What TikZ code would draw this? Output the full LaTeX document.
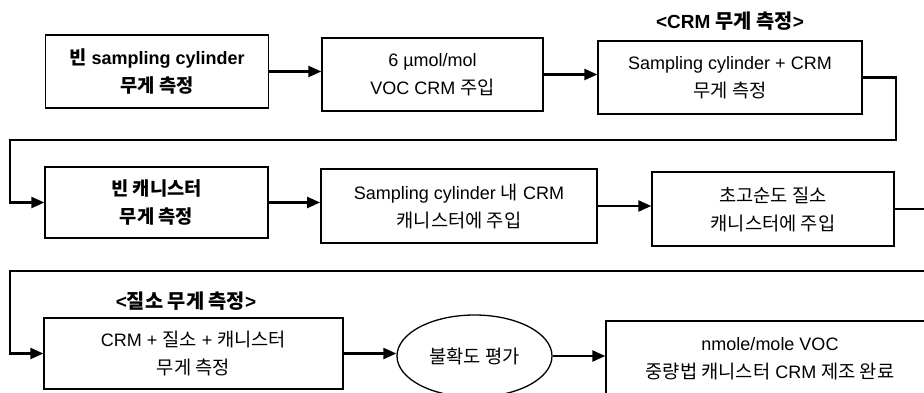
\documentclass[tikz,border=0pt]{standalone}
\usepackage{fontspec}
\setmainfont{Liberation Sans}
\newfontfamily\kr[Scale=1.04]{Noto Sans CJK KR}
\usetikzlibrary{arrows.meta,shapes.geometric}
\tikzset{
  box/.style={draw, line width=1.3pt, align=center, inner sep=0pt, font=\fontsize{18}{28}\selectfont},
  boldbox/.style={box, font=\fontsize{18}{28}\selectfont\bfseries},
  conn/.style={line width=2.3pt},
  arr/.style={conn, -{Triangle[length=13pt,width=11pt]}},
  lbl/.style={font=\fontsize{19}{22}\selectfont\bfseries, inner sep=0pt},
}
\begin{document}
\begin{tikzpicture}[x=1pt,y=-1pt]
\useasboundingbox (0,0) rectangle (924,393);
% row 1
\node[boldbox, minimum width=223pt, minimum height=73pt] (b1) at (157,71.5) {{\kr 빈} sampling cylinder\\{\kr 무게 측정}};
\node[box, minimum width=221pt, minimum height=73pt] (b2) at (432.5,74.5) {6 µmol/mol\\VOC CRM {\kr 주입}};
\node[box, minimum width=264pt, minimum height=73pt] (b3) at (730,77.5) {Sampling cylinder + CRM\\{\kr 무게 측정}};
\node[lbl] (l1) at (730,21) {<CRM {\kr 무게 측정}>};
% row 2
\node[boldbox, minimum width=223pt, minimum height=71pt] (b4) at (156.5,202.5) {{\kr 빈 캐니스터}\\{\kr 무게 측정}};
\node[box, line width=1.8pt, minimum width=276pt, minimum height=74pt] (b5) at (459,206) {Sampling cylinder {\kr 내} CRM\\{\kr 캐니스터에 주입}};
\node[box, minimum width=242pt, minimum height=74pt] (b6) at (773,209) {{\kr 초고순도 질소}\\{\kr 캐니스터에 주입}};
% row 3
\node[lbl] (l2) at (186,301) {<{\kr 질소 무게 측정}>};
\node[box, minimum width=299pt, minimum height=71pt] (b7) at (193.5,353.5) {CRM + {\kr 질소} + {\kr 캐니스터}\\{\kr 무게 측정}};
\node[box, ellipse, minimum width=155pt, minimum height=82pt] (e1) at (474.5,356) {\kr 불확도 평가};
\node[box, minimum width=328pt, minimum height=75pt] (b9) at (770,358.5) {nmole/mole VOC\\{\kr 중량법 캐니스터} CRM {\kr 제조 완료}};
% turn points
\coordinate (t1) at (896,140);
\coordinate (t2) at (10,140);
\coordinate (t3) at (940,271);
\coordinate (t4) at (10,271);
% connectors
\draw[arr] (b1.east) -- (b1.east -| b2.west);
\draw[arr] (b2.east) -- (b2.east -| b3.west);
\draw[arr] (b3.east) -| (t1) -- (t2) |- (b4.west);
\draw[arr] (b4.east) -- (b4.east -| b5.west);
\draw[arr] (b5.east) -- (b5.east -| b6.west);
\draw[arr] (b6.east) -| (t3) -- (t4) |- (b7.west);
\draw[arr] (b7.east) -- (b7.east -| e1.west);
\draw[arr] (e1.east) -- (e1.east -| b9.west);
\end{tikzpicture}
\end{document}
